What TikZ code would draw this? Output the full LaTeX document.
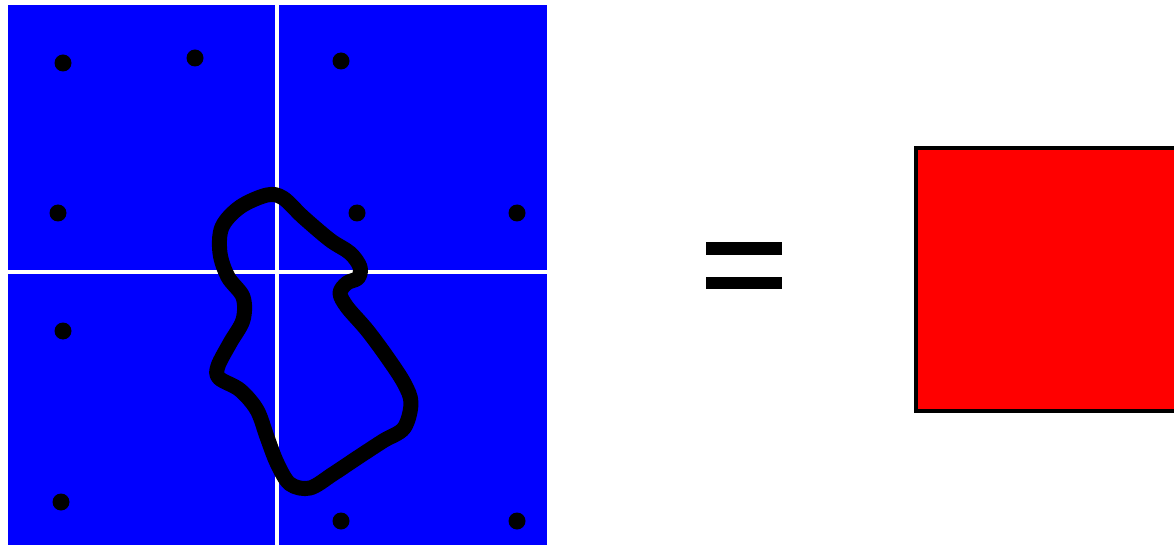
\documentclass[tikz,border=0pt]{standalone}
\begin{document}
\begin{tikzpicture}[x=1pt,y=-1pt,
  gridline/.style={white,line width=3.5pt},
  dot/.style={fill=black},
  blob/.style={black,line width=15pt,line join=round},
  bar/.style={fill=black}]
\clip (0,0) rectangle (1174,545);
\fill[white] (0,0) rectangle (1174,545);
% blue field
\fill[blue] (8,5) rectangle (547,545);
\draw[gridline] (277,5) -- (277,545);
\draw[gridline] (8,272) -- (547,272);
% dots
\foreach \p in {(63,63),(195,58),(341,61),(58,213),(357,213),(517,213),(63,331),(61,502),(341,521),(517,521)}
  \fill[dot] \p circle (8.5);
% blob
\draw[blob] plot[smooth cycle,tension=0.55] coordinates {
 (267,195) (240,207) (222,227) (220,253) (228,277) (243,297) (243,320) (230,343)
 (218,366) (219,378) (240,390) (257,410) (267,437) (277,463) (290,484) (310,488)
 (333,474) (357,458) (383,441) (404,428) (411,403) (404,383) (387,357) (367,330)
 (347,307) (340,293) (347,283) (358,278) (360,267) (350,253) (330,240) (303,217) (283,198)};
% equals sign
\fill[bar] (706,242) rectangle (782,255);
\fill[bar] (706,277) rectangle (782,289);
% red square
\fill[red] (916,148) rectangle (1185,411);
\draw[black,line width=4pt] (1185,148) -- (916,148) -- (916,411) -- (1185,411);
\end{tikzpicture}
\end{document}
